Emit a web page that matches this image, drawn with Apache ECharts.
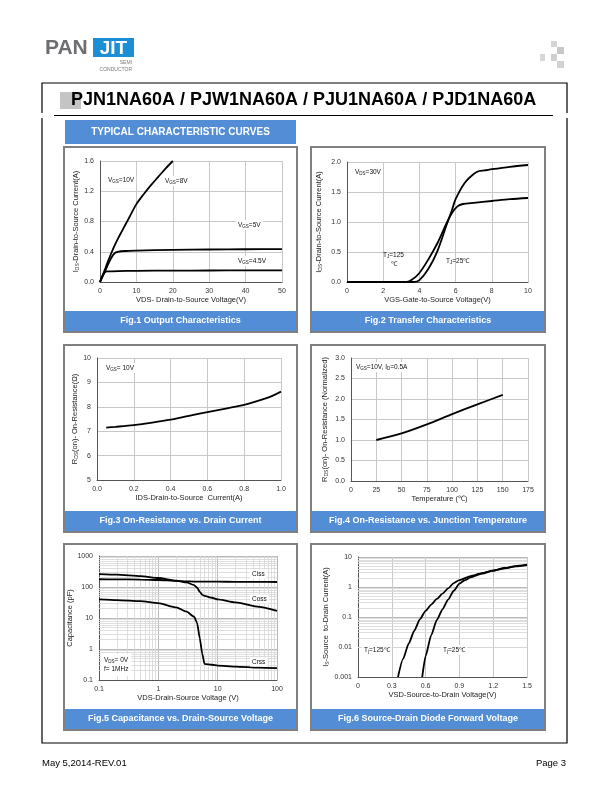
<!DOCTYPE html>
<html><head><meta charset="utf-8">
<script src="https://cdn.jsdelivr.net/npm/echarts@6/dist/echarts.min.js"></script>
<style>html,body{margin:0;padding:0;background:#fff}#c{width:612px;height:792px}</style>
</head><body><div id="c"></div>
<script>
// ---------- DATA ----------
// Fig.1 Output Characteristics
const f1VdsA = [0,1,2,3,4,5,6,7,8,10,12,14,16,18,20];
const f1IdVgs10 = [0,0.12,0.25,0.37,0.48,0.58,0.67,0.76,0.85,1.03,1.16,1.28,1.39,1.5,1.6];
const f1VdsB = [0,1,2,3,4,5,7,10,20,30,40,50];
const f1IdVgs5 = [0,0.1,0.21,0.31,0.38,0.4,0.41,0.415,0.425,0.43,0.433,0.435];
const f1VdsC = [0,0.5,1,1.5,2,5,10,20,30,40,50];
const f1IdVgs45 = [0,0.06,0.11,0.135,0.14,0.145,0.148,0.15,0.152,0.153,0.155];
// Fig.2 Transfer Characteristics
const f2VgsHot = [0,3.3,3.6,4,4.5,5,5.5,5.8,6.1,6.4,7,8,9,10];
const f2IdHot = [0,0,0.04,0.15,0.38,0.65,0.98,1.15,1.26,1.3,1.32,1.35,1.38,1.4];
const f2VgsCold = [0,3.7,4,4.5,5,5.5,5.8,6,6.5,7,7.3,7.6,8,9,10];
const f2IdCold = [0,0,0.03,0.22,0.52,0.95,1.2,1.38,1.65,1.8,1.85,1.86,1.88,1.92,1.95];
// Fig.3 On-Resistance vs Drain Current
const f3Id = [0.05,0.1,0.2,0.3,0.4,0.5,0.6,0.7,0.8,0.9,0.95,1.0];
const f3Rds = [7.15,7.18,7.25,7.35,7.47,7.63,7.78,7.93,8.08,8.3,8.44,8.62];
// Fig.4 On-Resistance vs Junction Temperature
const f4Temp = [25,50,75,100,125,150];
const f4Rn = [1.0,1.16,1.38,1.63,1.87,2.1];
// Fig.5 Capacitance
const f5Vds = [0.1,0.2,0.5,1,2,3,4,4.5,5,5.5,6,8,10,20,50,100];
const f5Ciss = [178,177,173,168,158,152,150,150,150,149,149,148,148,147,146,145];
const f5Coss = [260,250,225,195,160,140,115,95,70,56,52,45,40,32,23,17];
const f5Crss = [40,38,35,30,22,16,11,7,2.2,0.7,0.33,0.31,0.29,0.27,0.25,0.24];
// Fig.6 Diode forward voltage
const f6VsdHot = [0.355,0.4,0.45,0.5,0.55,0.6,0.65,0.7,0.75,0.8,0.85,0.9,1.0,1.1,1.2,1.3,1.4,1.5];
const f6IsHot = [0.001,0.004,0.013,0.035,0.085,0.16,0.26,0.4,0.6,0.9,1.35,1.7,2.3,2.9,3.5,4.2,4.9,5.4];
const f6VsdCold = [0.57,0.6,0.65,0.7,0.75,0.8,0.85,0.9,0.95,1.0,1.1,1.2,1.3,1.4,1.5];
const f6IsCold = [0.001,0.005,0.025,0.08,0.18,0.38,0.75,1.3,1.7,2.1,2.8,3.5,4.3,5.0,5.6];

// ---------- HELPERS ----------
const FONT = 'Liberation Sans';
const BLUE = '#538DD5';
const zip = (a,b) => a.map((v,i)=>[v,b[i]]);
const lbl = {color:'#333', fontSize:7, fontFamily:FONT};
const nameStyle = {color:'#222', fontSize:7.5, fontFamily:FONT,
  rich:{n:{fontSize:7.5,fontFamily:FONT,color:'#222'}, s:{fontSize:5,fontFamily:FONT,color:'#222',padding:[4,0,0,0]}}};
const gridLine = {show:true, lineStyle:{color:'#c8c8c8', width:1}};
const axLine = {show:true, lineStyle:{color:'#555', width:1}};
function vAxis(gi, min, max, interval, fmt, name, gap, o){
  return Object.assign({gridIndex:gi, type:'value', min, max, interval,
    axisLabel:Object.assign({formatter:fmt, margin:6}, lbl),
    axisLine:axLine, axisTick:{show:false}, splitLine:gridLine,
    name, nameLocation:'middle', nameGap:gap, nameTextStyle:nameStyle}, o||{});
}
function logAxis(gi, min, max, name, gap){
  return {gridIndex:gi, type:'log', min, max, logBase:10, axisLabel:Object.assign({formatter:logFmt, margin:6},lbl),
    axisLine:axLine, axisTick:{show:false}, splitLine:{show:true, lineStyle:{color:'#b8b8b8'}},
    name, nameLocation:'middle', nameGap:gap, nameTextStyle:nameStyle};
}
function line(data, xi){
  return {type:'line', xAxisIndex:xi, yAxisIndex:xi, data, showSymbol:false, symbol:'none',
    smooth:0.3, lineStyle:{color:'#000', width:1.8}, z:5};
}
function decadeMinors(lo, hi){ const r=[]; for(let d=lo; d<hi*0.999; d*=10){ for(let k=2;k<=9;k++) r.push(+(d*k).toPrecision(3)); } return r; }
const f1 = v => v.toFixed(1);
const logFmt = v => v>=1 ? String(Math.round(v)) : String(+v.toPrecision(1));

// ---------- GRAPHICS ----------
const g = [];
function rect(x,y,w,h,style,z){ g.push({type:'rect', shape:{x,y,width:w,height:h}, style, z:z||1}); }
function seg(pts,w){ g.push({type:'polyline', shape:{points:pts}, style:{stroke:'#000', lineWidth:w||1.2, fill:null}, z:1}); }
function txt(x,y,text,size,weight,fill,align,extra,z){
  g.push({type:'text', x, y, z:z||100, style:Object.assign({text, fontFamily:FONT, fontSize:size, fontWeight:weight||'normal',
    fill:fill||'#000', align:align||'left', verticalAlign:'middle'}, extra||{})});
}
const sub = (a,s,b) => `{n|${a}}{s|${s}}{n|${b}}`;
const annRich = {n:{fontSize:6.5,fontFamily:FONT,color:'#111'}, s:{fontSize:4.5,fontFamily:FONT,color:'#111',padding:[3,0,0,0]}};
function ann(x,y,text,bg){ txt(x,y,text,6.5,'normal','#111','left',{rich:annRich, backgroundColor:bg?'#fff':'transparent', padding:bg?[1,2]:0}); }

// logo
txt(45,48,'PAN',21,'bold','#6d6e71');
rect(93,38,41,19,{fill:'#1b8ed6'});
txt(113.5,48.5,'JIT',19,'bold','#fff','center');
txt(132,63,'SEMI',5,'normal','#777','right');
txt(132,69.5,'CONDUCTOR',5,'normal','#777','right');
// decorative squares
rect(551,41,6,6,{fill:'#d4d4d4'}); rect(557,47,7,7,{fill:'#c8c8c8'});
rect(540,54,5,7,{fill:'#d8d8d8'}); rect(551,54,6,7,{fill:'#cfcfcf'}); rect(557,61,7,7,{fill:'#d2d2d2'});
// frame (with small breaks beside the title rule)
seg([[42,113],[42,83],[567,83],[567,113]]);
seg([[42,118],[42,743],[567,743],[567,118]]);
rect(60,92,21,17,{fill:'#c4c4c4'});
txt(71,100,'PJN1NA60A / PJW1NA60A / PJU1NA60A / PJD1NA60A',18,'bold','#000');
g.push({type:'line', shape:{x1:54,y1:115.5,x2:553,y2:115.5}, style:{stroke:'#000', lineWidth:1}, z:1});
rect(65,120,231,24,{fill:BLUE});
txt(180.5,132,'TYPICAL CHARACTERISTIC CURVES',10,'bold','#fff','center');
// panels
const panels = [
  [64,147,233,185,'Fig.1 Output Characteristics'],
  [311,147,234,185,'Fig.2 Transfer Characteristics'],
  [64,345,233,187,'Fig.3 On-Resistance vs. Drain Current'],
  [311,345,234,187,'Fig.4 On-Resistance vs. Junction Temperature'],
  [64,544,233,186,'Fig.5 Capacitance vs. Drain-Source Voltage'],
  [311,544,234,186,'Fig.6 Source-Drain Diode Forward Voltage']];
panels.forEach(([x,y,w,h,t])=>{
  rect(x+1,y+h-21,w-2,20,{fill:BLUE},2);
  rect(x,y,w,h,{fill:null, stroke:'#808080', lineWidth:2},3);
  txt(x+w/2,y+h-11,t,9,'bold','#fff','center',null,4);
});
// footer
txt(42,763,'May 5,2014-REV.01',9.5,'normal','#000');
txt(566,763,'Page 3',9.5,'normal','#000','right');

// annotations
ann(106,180,sub('V','GS','=10V'),true);
ann(163,181,sub('V','GS','=8V'),true);
ann(236,225,sub('V','GS','=5V'),true);
ann(236,261,sub('V','GS','=4.5V'),true);
ann(353,172,sub('V','DS','=30V'),true);
ann(383,255,sub('T','J','=125'),false);
txt(391,264,'℃',6.5,'normal','#111');
ann(446,261,sub('T','J','=25℃'),false);
ann(104,368,sub('V','GS','= 10V'),true);
ann(354,367,'{n|V}{s|GS}{n|=10V, I}{s|D}{n|=0.5A}',true);
ann(250,574,'{n|Ciss}',true);
ann(250,599,'{n|Coss}',true);
ann(250,662,'{n|Crss}',true);
txt(101,665,'{n|V}{s|DS}{n|= 0V}\n{n|f= 1MHz}',6.5,'normal','#111','left',{rich:annRich, backgroundColor:'#fff', padding:[2,3], lineHeight:9});
ann(362,650,sub('T','j','=125℃'),true);
ann(441,650,sub('T','j','=25℃'),true);

// ---------- CHART ----------
const grids = [
  {left:100, top:161, width:182, height:121},
  {left:347, top:162, width:181, height:120},
  {left:97,  top:358, width:184, height:122},
  {left:351, top:358, width:177, height:123},
  {left:99,  top:556, width:178, height:124},
  {left:358, top:557, width:169, height:120}];
const xAxes = [
  vAxis(0,0,50,10,v=>String(v),'VDS- Drain-to-Source Voltage(V)',13),
  vAxis(1,0,10,2,v=>String(v),'VGS-Gate-to-Source Voltage(V)',13),
  vAxis(2,0,1.0,0.2,f1,'IDS-Drain-to-Source  Current(A)',12),
  vAxis(3,0,175,25,v=>String(v),'Temperature (℃)',11),
  logAxis(4,0.1,100,'VDS-Drain-Source Voltage (V)',12),
  vAxis(5,0,1.5,0.3,v=>v===0?'0':v.toFixed(1),'VSD-Source-to-Drain Voltage(V)',14)];
const yAxes = [
  vAxis(0,0,1.6,0.4,f1,sub('I','DS','-Drain-to-Source Current(A)'),20),
  vAxis(1,0,2.0,0.5,f1,sub('I','DS','-Drain-to-Source Current(A)'),24),
  vAxis(2,5,10,1,v=>String(v),sub('R','DS','(on)- On-Resistance(Ω)'),17),
  vAxis(3,0,3.0,0.5,f1,sub('R','DS','(on)- On-Resistance (Normalized)'),22),
  logAxis(4,0.1,1000,'Capacitance (pF)',20),
  logAxis(5,0.001,10,sub('I','S','-Source  to-Drain Current(A)'),25)];

const mlBase = {silent:true, symbol:['none','none'], label:{show:false}, animation:false,
  lineStyle:{color:'#d6d6d6', width:0.8, type:'solid'}, emphasis:{disabled:true}};
const s5a = line(zip(f5Vds,f5Ciss),4);
s5a.markLine = Object.assign({}, mlBase, {data: decadeMinors(0.1,100).map(v=>({xAxis:v})).concat(decadeMinors(0.1,1000).map(v=>({yAxis:v})))});
const s6a = line(zip(f6VsdHot,f6IsHot),5);
s6a.markLine = Object.assign({}, mlBase, {data: decadeMinors(0.001,10).map(v=>({yAxis:v}))});

const series = [
  line(zip(f1VdsA,f1IdVgs10),0), line(zip(f1VdsB,f1IdVgs5),0), line(zip(f1VdsC,f1IdVgs45),0),
  line(zip(f2VgsHot,f2IdHot),1), line(zip(f2VgsCold,f2IdCold),1),
  line(zip(f3Id,f3Rds),2),
  line(zip(f4Temp,f4Rn),3),
  s5a, line(zip(f5Vds,f5Coss),4), line(zip(f5Vds,f5Crss),4),
  s6a, line(zip(f6VsdCold,f6IsCold),5)];
series.forEach(s=>{ if(s.xAxisIndex>=4){ s.smooth=0.2; s.smoothMonotone='x'; } });

const chart = echarts.init(document.getElementById('c'), null, {renderer:'canvas'});
chart.setOption({animation:false, backgroundColor:'#fff', grid:grids, xAxis:xAxes, yAxis:yAxes, series, graphic:{elements:g}});
</script></body></html>
